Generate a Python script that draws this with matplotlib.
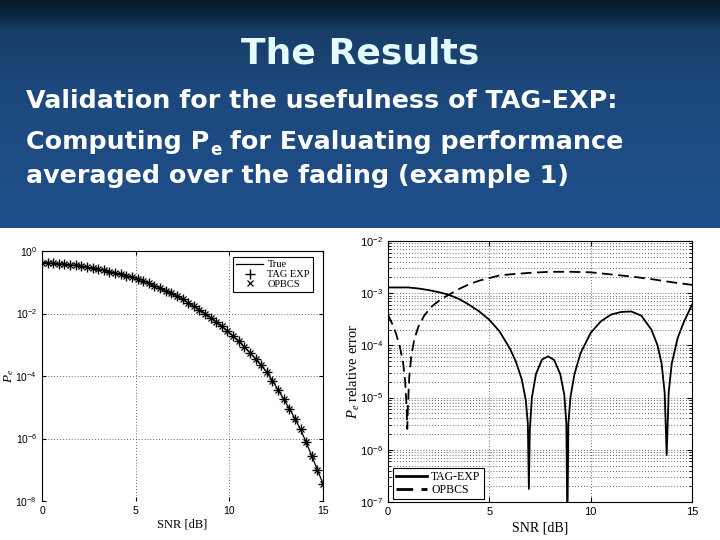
import numpy as np
import matplotlib
matplotlib.use("Agg")
import matplotlib.pyplot as plt
from matplotlib.patches import Rectangle
from matplotlib.ticker import FixedLocator, LogLocator, NullFormatter, NullLocator

plt.rcParams["mathtext.fontset"] = "custom"
plt.rcParams["mathtext.rm"] = "Liberation Sans"
plt.rcParams["mathtext.it"] = "Liberation Serif:italic"
plt.rcParams["mathtext.bf"] = "Liberation Sans:bold"
plt.rcParams["font.family"] = "Liberation Sans"

# slide text
title = "The Results"
line1 = "Validation for the usefulness of TAG-EXP:"
line2 = ("Computing P", "e", " for Evaluating performance")
line3 = "averaged over the fading (example 1)"

# left panel: Pe vs SNR, markers sit on the true curve
snr_left = [0.0, 0.3, 0.6, 0.9, 1.2, 1.5, 1.8, 2.1, 2.4, 2.7, 3.0, 3.3, 3.6, 3.9,
            4.2, 4.5, 4.8, 5.1, 5.4, 5.7, 6.0, 6.3, 6.6, 6.9, 7.2, 7.5, 7.8, 8.1,
            8.4, 8.7, 9.0, 9.3, 9.6, 9.9, 10.2, 10.5, 10.8, 11.1, 11.4, 11.7, 12.0,
            12.3, 12.6, 12.9, 13.2, 13.5, 13.8, 14.1, 14.4, 14.7, 15.0]
pe_log10 = [-0.37, -0.38, -0.39, -0.41, -0.42, -0.44, -0.46, -0.49, -0.52, -0.55,
            -0.59, -0.62, -0.66, -0.70, -0.74, -0.79, -0.83, -0.88, -0.95, -1.03,
            -1.11, -1.19, -1.27, -1.35, -1.44, -1.54, -1.65, -1.76, -1.88, -2.00,
            -2.13, -2.27, -2.41, -2.56, -2.72, -2.89, -3.06, -3.25, -3.45, -3.66,
            -3.88, -4.15, -4.44, -4.74, -5.04, -5.36, -5.71, -6.12, -6.56, -7.00,
            -7.45]
left_labels = ["True", "TAG EXP", "OPBCS"]

# right panel: relative error of Pe
snr_tag = [0.0, 0.5, 1.0, 1.5, 2.0, 2.5, 3.0, 3.5, 4.0, 4.5, 5.0, 5.5, 6.0, 6.3,
           6.6, 6.8, 6.9, 6.95, 7.0, 7.1, 7.3, 7.6, 7.9, 8.2, 8.5, 8.7, 8.8, 8.85,
           8.9, 9.0, 9.2, 9.5, 10.0, 10.5, 11.0, 11.5, 12.0, 12.5, 13.0, 13.3,
           13.5, 13.65, 13.75, 13.85, 14.0, 14.3, 14.6, 15.0]
err_tag_log10 = [-2.89, -2.89, -2.89, -2.91, -2.94, -2.98, -3.03, -3.11, -3.22,
                 -3.35, -3.51, -3.73, -4.05, -4.30, -4.65, -5.05, -5.50, -6.75,
                 -5.60, -5.00, -4.55, -4.27, -4.21, -4.28, -4.55, -4.95, -5.50,
                 -7.50, -5.50, -5.00, -4.55, -4.15, -3.76, -3.54, -3.41, -3.36,
                 -3.35, -3.43, -3.70, -4.00, -4.35, -4.90, -6.10, -4.90, -4.35,
                 -3.85, -3.55, -3.22]
snr_opb = [0.0, 0.2, 0.4, 0.6, 0.75, 0.85, 0.92, 0.95, 0.98, 1.05, 1.15, 1.3, 1.5,
           1.8, 2.2, 2.6, 3.0, 3.5, 4.0, 4.5, 5.0, 5.5, 6.0, 7.0, 8.0, 9.0, 10.0,
           11.0, 12.0, 13.0, 14.0, 15.0]
err_opb_log10 = [-3.41, -3.58, -3.78, -4.05, -4.35, -4.70, -5.20, -5.60, -5.20,
                 -4.60, -4.20, -3.88, -3.64, -3.42, -3.24, -3.12, -3.03, -2.92,
                 -2.83, -2.76, -2.71, -2.66, -2.64, -2.61, -2.59, -2.59, -2.60,
                 -2.64, -2.68, -2.73, -2.79, -2.84]
right_labels = ["TAG-EXP", "OPBCS"]

W, H = 720, 540
fig = plt.figure(figsize=(W / 100, H / 100), dpi=100)


def fx(px):
    return px / W


def fy(py):
    return 1 - py / H


# slide background: dark band at the top fading into blue
stops_y = [0, 15, 30, 90, 228, 540]
stops_c = [(8, 26, 42), (12, 38, 64), (24, 62, 104), (28, 72, 124), (31, 80, 140), (31, 80, 140)]
rows = np.arange(H)
grad = np.stack([np.interp(rows, stops_y, [c[i] for c in stops_c]) for i in range(3)], axis=-1) / 255
bg = fig.add_axes([0, 0, 1, 1], zorder=-10)
bg.imshow(grad[:, None, :], aspect="auto", extent=[0, 1, 0, 1])
bg.axis("off")
fig.add_artist(Rectangle((0, 0), 1, fy(228), transform=fig.transFigure,
                         facecolor="white", edgecolor="none", zorder=-5))

slide_font = "DejaVu Sans"
fig.text(0.5, fy(63), title, ha="center", va="baseline", fontsize=26,
         fontweight="bold", color="#e4fbff", fontfamily=slide_font)
body = dict(fontsize=18.3, fontweight="bold", color="white", va="baseline",
            fontfamily=slide_font)
fig.text(fx(26), fy(108), line1, **body)
fig.text(fx(26), fy(183), line3, **body)
renderer = fig.canvas.get_renderer()
t = fig.text(fx(26), fy(149), line2[0], **body)
x_end = t.get_window_extent(renderer).x1 / W
t = fig.text(x_end + 0.001, fy(155), line2[1], fontsize=12, fontweight="bold",
             color="white", va="baseline", fontfamily=slide_font)
x_end = t.get_window_extent(renderer).x1 / W
fig.text(x_end, fy(149), line2[2], **body)

serif = "Liberation Serif"
grid_kw = dict(linestyle=(0, (1, 2.5)), color="#333333", linewidth=0.6)

# ---- left plot
ax1 = fig.add_axes([fx(42), fy(501), fx(323 - 42), (501 - 251) / H])
pe = [10 ** v for v in pe_log10]
ax1.semilogy(snr_left, pe, color="black", linewidth=0.9, label=left_labels[0])
ax1.semilogy(snr_left, pe, linestyle="none", marker="+", markersize=6.5,
             markeredgewidth=1.0, color="black", label=left_labels[1])
ax1.semilogy(snr_left, pe, linestyle="none", marker="x", markersize=5,
             markeredgewidth=0.9, color="black", label=left_labels[2])
ax1.set_xlim(0, 15)
ax1.set_ylim(1e-8, 1e0)
ax1.xaxis.set_major_locator(FixedLocator([0, 5, 10, 15]))
ax1.yaxis.set_major_locator(FixedLocator([1e0, 1e-2, 1e-4, 1e-6, 1e-8]))
ax1.yaxis.set_minor_locator(NullLocator())
ax1.grid(True, which="major", **grid_kw)
ax1.tick_params(direction="in", top=True, right=True, labelsize=7.5, length=3)
ax1.spines["bottom"].set_visible(False)
ax1.set_xlabel("SNR [dB]", fontfamily=serif, fontsize=9, labelpad=2)
ax1.set_ylabel("$P_e$", fontsize=9.5)
ax1.yaxis.set_label_coords(-0.092, 0.5)
leg1 = ax1.legend(loc="upper right", bbox_to_anchor=(0.964, 0.976), borderaxespad=0,
                  prop={"family": serif, "size": 7.5}, numpoints=1, handlelength=2.6,
                  labelspacing=0.05, handletextpad=0.4, borderpad=0.3,
                  fancybox=False, framealpha=1, edgecolor="black")
leg1.get_frame().set_linewidth(0.8)

# ---- right plot
ax2 = fig.add_axes([fx(388), fy(502), fx(692 - 388), (502 - 241) / H])
ax2.semilogy(snr_tag, [10 ** v for v in err_tag_log10], color="black",
             linewidth=1.3, label=right_labels[0])
ax2.semilogy(snr_opb, [10 ** v for v in err_opb_log10], color="black",
             linewidth=1.3, linestyle=(0, (6, 3)), label=right_labels[1])
ax2.set_xlim(0, 15)
ax2.set_ylim(1e-7, 1e-2)
ax2.xaxis.set_major_locator(FixedLocator([0, 5, 10, 15]))
ax2.yaxis.set_major_locator(LogLocator(base=10, numticks=10))
ax2.yaxis.set_minor_locator(LogLocator(base=10, subs=np.arange(2, 10), numticks=10))
ax2.yaxis.set_minor_formatter(NullFormatter())
ax2.grid(True, which="major", **grid_kw)
ax2.grid(True, which="minor", axis="y", **grid_kw)
ax2.tick_params(which="both", direction="in", top=True, right=True, labelsize=8)
ax2.tick_params(which="major", length=3.5)
ax2.tick_params(which="minor", length=2)
ax2.set_xlabel("SNR [dB]", fontfamily=serif, fontsize=10, labelpad=3)
ax2.set_ylabel("$P_e$ relative error", fontfamily=serif, fontsize=10.5)
ax2.yaxis.set_label_coords(-0.085, 0.5)
leg2 = ax2.legend(loc="lower left", bbox_to_anchor=(0.016, 0.012), borderaxespad=0,
                  prop={"family": serif, "size": 8.5}, handlelength=2.6,
                  labelspacing=0.05, handletextpad=0.4, borderpad=0.25,
                  fancybox=False, framealpha=1, edgecolor="black")
leg2.get_frame().set_linewidth(0.8)
for h in leg2.get_lines():
    h.set_linewidth(2)

fig.savefig("out.png", dpi=100)
